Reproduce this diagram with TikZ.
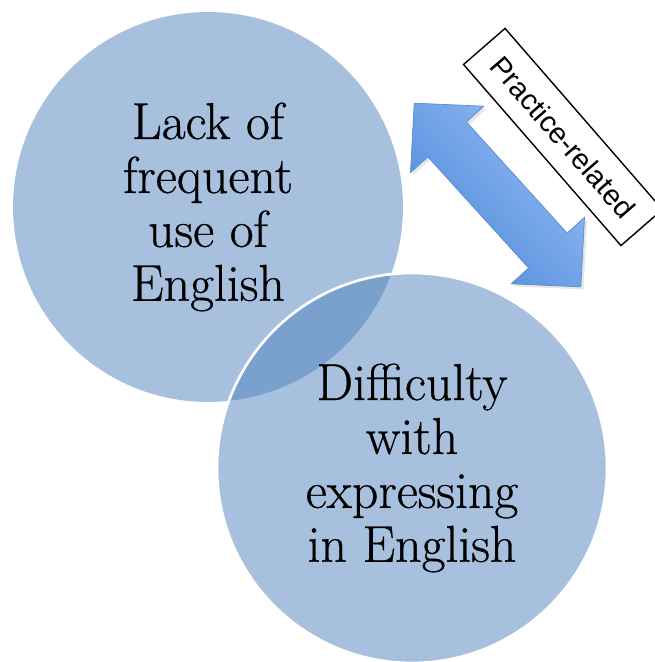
\documentclass[tikz,border=0pt]{standalone}
\usepackage{fontspec}
\newfontfamily\tagfont{Liberation Sans}
\newfontfamily\bubblefont{Latin Modern Roman}[FakeBold=0.6]
\usetikzlibrary{shadows, positioning}
\definecolor{circblue}{HTML}{4F81BD}
\definecolor{arrowlight}{HTML}{93BDF6}
\definecolor{arrowdark}{HTML}{4F88D8}
\definecolor{arrowedge}{HTML}{5A8CD2}

\tikzset{
  bubble/.style={circle, minimum size=7.8cm, inner sep=0pt, fill=circblue,
    fill opacity=0.5, text opacity=1, align=center,
    font=\bubblefont\fontsize{29.5}{30.7}\selectfont},
  tagbox/.style={draw=black, line width=0.8pt, fill=white, minimum width=4.8cm,
    minimum height=1.1cm, inner sep=0pt, font=\tagfont\fontsize{16.5}{19}\selectfont}
}

\begin{document}
\begin{tikzpicture}[x=0.02cm, y=-0.02cm]
  \useasboundingbox (0,0) rectangle (654,662);
  % Circles
  \node[bubble] (lack) at (208,207) {Lack of\\frequent\\use of\\English};
  \node[bubble, draw=white, line width=1.5pt] (diff) at (412,468)
    {Difficulty\\with\\expressing\\in English};
  % Double arrow
  \begin{scope}[shift={(497.5,195)}, rotate=-47.8, x=0.02cm, y=0.02cm]
    \shade[top color=arrowlight, bottom color=arrowdark, shading angle=-48,
      draw=arrowedge, line width=0.4pt,
      drop shadow={opacity=0.2, shadow xshift=1.5pt, shadow yshift=-1.5pt}]
      (-124,0) -- (-75,49.5) -- (-75,26) -- (75,26) -- (75,49.5) -- (124,0)
      -- (75,-49.5) -- (75,-26) -- (-75,-26) -- (-75,-49.5) -- cycle;
  \end{scope}
  % Label
  \node[tagbox, rotate=-49] (practice) at (563,137) {Practice-related};
\end{tikzpicture}
\end{document}
